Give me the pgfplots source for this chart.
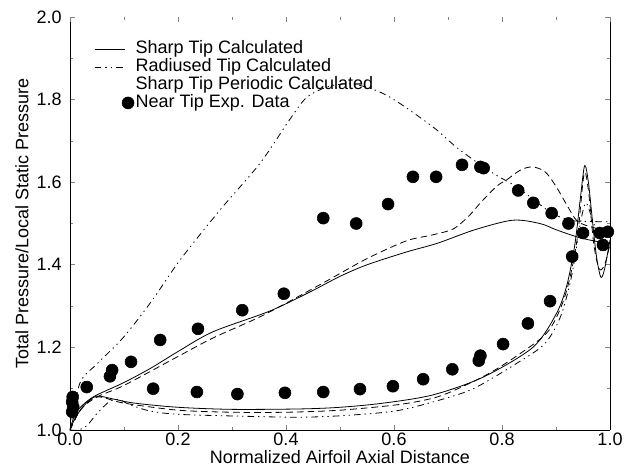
\documentclass[border=0pt]{standalone}
\usepackage{fontspec}
\setmainfont{Liberation Sans}
\usepackage{pgfplots}
\pgfplotsset{compat=1.18}
\begin{document}
\fontsize{13.5}{14}\selectfont
\begin{tikzpicture}
\useasboundingbox (-52.5pt,-30.75pt) rectangle (415.5pt,322.5pt);
\begin{axis}[
  at={(0,0)}, anchor=south west,
  scale only axis, width=405pt, height=309.75pt,
  xmin=0, xmax=1, ymin=1, ymax=2,
  axis x line*=bottom, axis y line*=box,
  axis line style={-, line width=0.7pt},
  xtick={0,0.2,...,1.0}, ytick={1.0,1.2,...,2.0},
  minor tick num=1,
  major tick length=4pt, minor tick length=2.5pt,
  tick style={line width=0.5pt},
  /pgf/number format/assume math mode=true,
  /pgf/number format/.cd, fixed, fixed zerofill, precision=1, /pgfplots/.cd,
  xticklabel style={inner sep=1pt, yshift=-1pt},
  yticklabel style={inner sep=1pt, xshift=-5pt},
  xlabel={Normalized Airfoil Axial Distance},
  ylabel={Total Pressure/Local Static Pressure},
  xlabel style={at={(axis description cs:0.5,-0.0665)}, anchor=center, inner sep=0pt},
  ylabel style={at={(axis description cs:-0.089,0.5)}, anchor=center, inner sep=0pt},
  legend cell align=left,
  legend style={draw=none, fill=none, at={(rel axis cs:0,1)}, anchor=north west,
    xshift=18pt, yshift=-17pt, inner sep=0pt, row sep=0pt,
    nodes={inner sep=1pt, text height=9pt, text depth=2.5pt}},
  legend image code/.code={\draw[#1] (0cm,0cm) -- (0.8cm,0cm);},
]
\addlegendimage{black, line width=0.6pt}
\addlegendentry{Sharp Tip Calculated}
\addlegendimage{black, line width=0.6pt, dash pattern=on 5pt off 3pt on 1pt off 3pt on 1pt off 3pt}
\addlegendentry{Radiused Tip Calculated}
% the periodic sample is missing in the original legend
\addlegendimage{legend image code/.code={\path[draw=none, fill=none] (0cm,0cm) rectangle (0.8cm,0.01cm);}}
\addlegendentry{Sharp Tip Periodic Calculated}
\addlegendimage{legend image code/.code={\fill[black] (0.88cm,0cm) circle (4.5pt);}}
\addlegendentry{Near Tip Exp. Data}

% sharp tip, upper surface
\addplot[black, line width=0.6pt, smooth, forget plot] coordinates {
(0.0,1.0) (0.01,1.04) (0.03,1.068) (0.05,1.085) (0.1,1.115) (0.15,1.15)
(0.2,1.19) (0.265,1.238) (0.37,1.288) (0.444,1.334) (0.5,1.372) (0.55,1.40)
(0.623,1.431) (0.68,1.452) (0.75,1.485) (0.82,1.508) (0.87,1.50) (0.9,1.485)
(0.94,1.467) (0.97,1.458) (1.0,1.452)
};
% sharp tip, lower surface
\addplot[black, line width=0.6pt, smooth, forget plot] coordinates {
(0.0,1.0) (0.01,1.03) (0.03,1.065) (0.05,1.082) (0.08,1.075) (0.12,1.065)
(0.2,1.055) (0.3,1.05) (0.426,1.051) (0.5,1.055) (0.58,1.065) (0.672,1.085)
(0.765,1.128) (0.857,1.20) (0.9,1.28) (0.92,1.35) (0.935,1.45) (0.945,1.56)
(0.953,1.64) (0.96,1.60) (0.968,1.50) (0.975,1.42) (0.983,1.37) (0.99,1.39)
(1.0,1.46)
};
% periodic, upper surface
\addplot[black, line width=0.6pt, smooth, dash pattern=on 5pt off 3pt, forget plot] coordinates {
(0.0,1.0) (0.02,1.05) (0.05,1.08) (0.1,1.108) (0.2,1.178) (0.265,1.223)
(0.358,1.278) (0.47,1.357) (0.55,1.415) (0.623,1.458) (0.67,1.472)
(0.71,1.487) (0.74,1.52) (0.76,1.55) (0.79,1.59) (0.81,1.607) (0.835,1.63)
(0.857,1.637) (0.88,1.625) (0.9,1.59) (0.92,1.545) (0.94,1.505) (0.97,1.49)
(1.0,1.48)
};
% periodic, lower surface
\addplot[black, line width=0.6pt, smooth, dash pattern=on 5pt off 3pt, forget plot] coordinates {
(0.0,1.0) (0.02,1.05) (0.05,1.08) (0.1,1.065) (0.2,1.048) (0.3,1.043)
(0.4,1.043) (0.5,1.048) (0.611,1.062) (0.68,1.08) (0.735,1.11) (0.78,1.14)
(0.828,1.18) (0.883,1.235) (0.91,1.30) (0.926,1.37) (0.94,1.47) (0.952,1.62)
(0.96,1.58) (0.97,1.45) (0.98,1.39) (0.99,1.40) (1.0,1.45)
};
% radiused tip, upper surface
\addplot[black, line width=0.6pt, smooth, dash pattern=on 5pt off 3pt on 1pt off 3pt on 1pt off 3pt, forget plot] coordinates {
(0.0,1.0) (0.0185,1.114) (0.05,1.16) (0.098,1.223) (0.15,1.31) (0.204,1.412)
(0.278,1.533) (0.352,1.646) (0.407,1.752) (0.439,1.806) (0.48,1.832)
(0.52,1.838) (0.561,1.825) (0.6,1.80) (0.672,1.734) (0.72,1.68) (0.783,1.622)
(0.828,1.588) (0.889,1.528) (0.926,1.508) (0.96,1.505) (1.0,1.504)
};
% radiused tip, lower surface
\addplot[black, line width=0.6pt, smooth, dash pattern=on 5pt off 3pt on 1pt off 3pt on 1pt off 3pt, forget plot] coordinates {
(0.0,1.0) (0.015,1.0) (0.031,1.01) (0.05,1.04) (0.074,1.07) (0.09,1.074)
(0.11,1.062) (0.148,1.046) (0.2,1.038) (0.3,1.034) (0.426,1.031) (0.52,1.036)
(0.611,1.048) (0.704,1.08) (0.753,1.104) (0.828,1.162) (0.88,1.21) (0.91,1.28)
(0.93,1.38) (0.945,1.50) (0.955,1.55) (0.965,1.52) (0.98,1.47) (1.0,1.48)
};
% experimental data
\addplot[only marks, mark=*, mark size=4.5pt, black, forget plot] coordinates {
(0.005,1.08) (0.004,1.068) (0.006,1.056) (0.004,1.044) (0.031,1.104)
(0.074,1.13) (0.078,1.145) (0.113,1.165) (0.167,1.218) (0.237,1.245)
(0.319,1.29) (0.396,1.33) (0.469,1.513) (0.53,1.50) (0.589,1.547)
(0.635,1.613) (0.678,1.613) (0.726,1.642) (0.76,1.637) (0.766,1.634)
(0.83,1.58) (0.858,1.55) (0.892,1.525) (0.923,1.50) (0.95,1.477)
(0.981,1.477) (0.987,1.448) (0.996,1.48)
(0.154,1.10) (0.235,1.092) (0.31,1.087) (0.398,1.09) (0.469,1.092)
(0.537,1.099) (0.598,1.106) (0.654,1.123) (0.708,1.147) (0.757,1.168)
(0.76,1.18) (0.802,1.208) (0.848,1.258) (0.889,1.312) (0.93,1.42)
};
\end{axis}
% top ticks without a top axis line
\begin{axis}[
  at={(0,0)}, anchor=south west,
  scale only axis, width=405pt, height=309.75pt,
  xmin=0, xmax=1, ymin=1, ymax=2,
  axis x line*=top, hide y axis,
  x axis line style={draw=none},
  xtick={0,0.2,...,1.0}, minor tick num=1,
  major tick length=4pt, minor tick length=2.5pt,
  tick style={line width=0.5pt},
  xticklabels={},
]
\end{axis}
\end{tikzpicture}
\end{document}
